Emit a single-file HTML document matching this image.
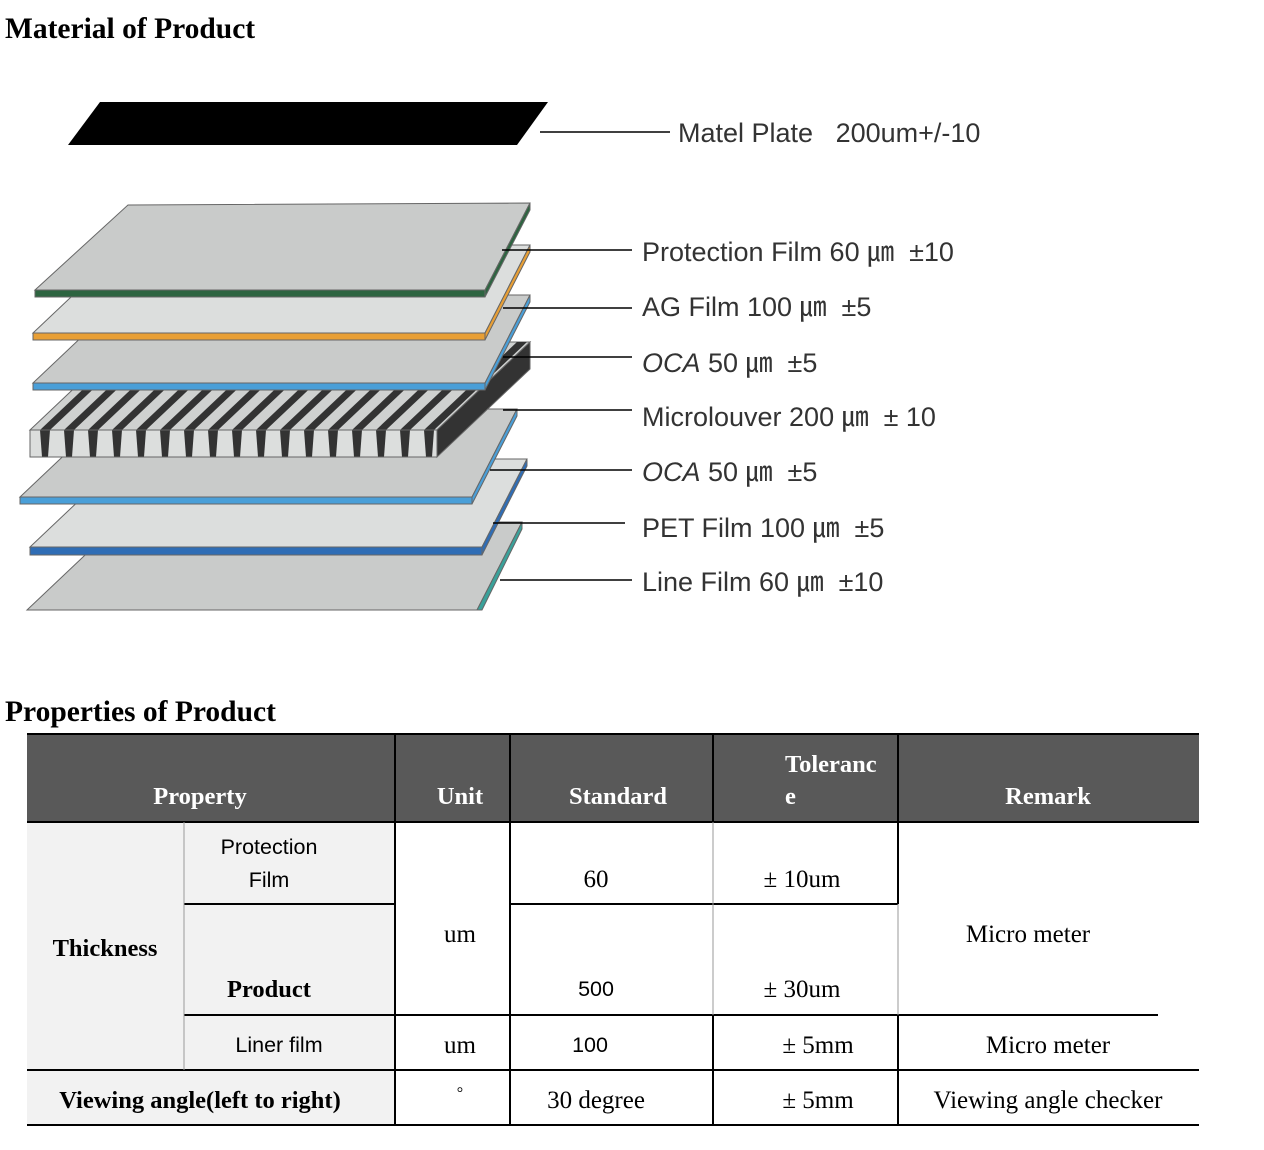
<!DOCTYPE html>
<html><head><meta charset="utf-8"><style>
body{margin:0;background:#fff;width:1264px;height:1150px;position:relative;overflow:hidden}
svg{position:absolute;left:0;top:0}
</style></head><body>
<svg width="1264" height="1150" xmlns="http://www.w3.org/2000/svg">
<g font-family="Liberation Serif, serif" font-weight="bold" font-size="29.5" fill="#000">
<text x="5" y="38">Material of Product</text>
<text x="5" y="721">Properties of Product</text>
</g>
<polygon points="100,102 548,102 517,145 68,145" fill="#000"/>
<g stroke="#666" stroke-width="1">
<polygon points="27,610 477,610 522,522 120,522" fill="#c9cbca"/>
<polygon points="477,610 522,522 522,529 482,610" fill="#3aa19a"/>
<polygon points="30,547 482,547 527,459 123,459" fill="#dcdedd"/>
<rect x="30" y="547" width="452" height="8" fill="#2f6db5"/>
<polygon points="482,547 527,459 527,466 482,555" fill="#2f6db5"/>
<polygon points="20,497 472,497 517,409 113,409" fill="#c9cbca"/>
<rect x="20" y="497" width="452" height="7" fill="#4a9fd8"/>
<polygon points="472,497 517,409 517,416 472,504" fill="#4a9fd8"/>
<polygon points="30,430 437,430 530,342 123,342" fill="#cfd1d0"/>
<polygon points="437,430 530,342 530,369 437,457" fill="#333"/>
<rect x="30" y="430" width="407" height="27" fill="#dcdedd"/>
</g>
<g fill="#333">
<polygon points="40,430 50,430 143,342 133,342"/><polygon points="40,430 50,430 48,457 42,457"/>
<polygon points="64,430 74,430 167,342 157,342"/><polygon points="64,430 74,430 72,457 66,457"/>
<polygon points="88,430 98,430 191,342 181,342"/><polygon points="88,430 98,430 96,457 90,457"/>
<polygon points="112,430 122,430 215,342 205,342"/><polygon points="112,430 122,430 120,457 114,457"/>
<polygon points="136,430 146,430 239,342 229,342"/><polygon points="136,430 146,430 144,457 138,457"/>
<polygon points="160,430 170,430 263,342 253,342"/><polygon points="160,430 170,430 168,457 162,457"/>
<polygon points="184,430 194,430 287,342 277,342"/><polygon points="184,430 194,430 192,457 186,457"/>
<polygon points="208,430 218,430 311,342 301,342"/><polygon points="208,430 218,430 216,457 210,457"/>
<polygon points="232,430 242,430 335,342 325,342"/><polygon points="232,430 242,430 240,457 234,457"/>
<polygon points="256,430 266,430 359,342 349,342"/><polygon points="256,430 266,430 264,457 258,457"/>
<polygon points="280,430 290,430 383,342 373,342"/><polygon points="280,430 290,430 288,457 282,457"/>
<polygon points="304,430 314,430 407,342 397,342"/><polygon points="304,430 314,430 312,457 306,457"/>
<polygon points="328,430 338,430 431,342 421,342"/><polygon points="328,430 338,430 336,457 330,457"/>
<polygon points="352,430 362,430 455,342 445,342"/><polygon points="352,430 362,430 360,457 354,457"/>
<polygon points="376,430 386,430 479,342 469,342"/><polygon points="376,430 386,430 384,457 378,457"/>
<polygon points="400,430 410,430 503,342 493,342"/><polygon points="400,430 410,430 408,457 402,457"/>
<polygon points="424,430 434,430 527,342 517,342"/><polygon points="424,430 434,430 432,457 426,457"/>
</g>
<rect x="30" y="430" width="407" height="27" fill="none" stroke="#666"/>
<g stroke="#666" stroke-width="1">
<polygon points="33,383 485,383 530,295 126,295" fill="#c9cbca"/>
<rect x="33" y="383" width="452" height="7" fill="#4a9fd8"/>
<polygon points="485,383 530,295 530,302 485,390" fill="#4a9fd8"/>
<polygon points="33,333 485,333 530,245 126,245" fill="#dcdedd"/>
<rect x="33" y="333" width="452" height="7" fill="#e89f35"/>
<polygon points="485,333 530,245 530,252 485,340" fill="#e89f35"/>
<polygon points="35,290 485,290 530,203 128,205" fill="#c9cbca"/>
<rect x="35" y="290" width="450" height="7" fill="#2d6440"/>
<polygon points="485,290 530,203 530,210 485,297" fill="#2d6440"/>
</g>
<g stroke="#000" stroke-width="1.5">
<line x1="540" y1="132" x2="670" y2="132"/>
<line x1="502" y1="250" x2="632" y2="250"/>
<line x1="503" y1="308" x2="632" y2="308"/>
<line x1="503" y1="357" x2="632" y2="357"/>
<line x1="503" y1="410" x2="632" y2="410"/>
<line x1="490" y1="470" x2="632" y2="470"/>
<line x1="493" y1="523" x2="625" y2="523"/>
<line x1="500" y1="580" x2="632" y2="580"/>
</g>
<g font-family="Liberation Sans, sans-serif" font-size="27" fill="#333">
<text x="678" y="142">Matel Plate&#160;&#160; 200um+/-10</text>
<text x="642" y="261">Protection Film 60 ㎛&#160; ±10</text>
<text x="642" y="316">AG Film 100 ㎛&#160; ±5</text>
<text x="642" y="372"><tspan font-style="italic">OCA</tspan> 50 ㎛&#160; ±5</text>
<text x="642" y="426">Microlouver 200 ㎛&#160; ± 10</text>
<text x="642" y="481"><tspan font-style="italic">OCA</tspan> 50 ㎛&#160; ±5</text>
<text x="642" y="537">PET Film 100 ㎛&#160; ±5</text>
<text x="642" y="591">Line Film 60 ㎛&#160; ±10</text>
</g>
<rect x="27" y="734" width="1172" height="88" fill="#595959"/>
<rect x="27" y="822" width="368" height="303" fill="#f2f2f2"/>
<g stroke="#000" stroke-width="2">
<line x1="27" y1="734" x2="1199" y2="734"/>
<line x1="27" y1="822" x2="1199" y2="822"/>
<line x1="27" y1="1070" x2="1199" y2="1070"/>
<line x1="27" y1="1125" x2="1199" y2="1125"/>
<line x1="184" y1="904" x2="395" y2="904"/>
<line x1="510" y1="904" x2="898" y2="904"/>
<line x1="184" y1="1015" x2="1158" y2="1015"/>
<line x1="395" y1="734" x2="395" y2="1125"/>
<line x1="510" y1="734" x2="510" y2="1125"/>
<line x1="713" y1="734" x2="713" y2="822"/>
<line x1="713" y1="1015" x2="713" y2="1125"/>
<line x1="898" y1="734" x2="898" y2="904"/>
<line x1="898" y1="1015" x2="898" y2="1125"/>
</g>
<g stroke="#999" stroke-width="1">
<line x1="184" y1="822" x2="184" y2="1070"/>
<line x1="713" y1="822" x2="713" y2="1015"/>
<line x1="898" y1="904" x2="898" y2="1015"/>
</g>
<g font-family="Liberation Serif, serif" font-weight="bold" font-size="24.5" fill="#fff" text-anchor="middle">
<text x="200" y="804">Property</text>
<text x="460" y="804">Unit</text>
<text x="618" y="804">Standard</text>
<text x="785" y="772" text-anchor="start">Toleranc</text>
<text x="785" y="804" text-anchor="start">e</text>
<text x="1048" y="804">Remark</text>
</g>
<g font-family="Liberation Serif, serif" font-weight="bold" font-size="24.5" fill="#000" text-anchor="middle">
<text x="105" y="956">Thickness</text>
<text x="269" y="997">Product</text>
<text x="200" y="1108">Viewing angle(left to right)</text>
</g>
<g font-family="Liberation Sans, sans-serif" font-size="21.5" fill="#000" text-anchor="middle">
<text x="269" y="854">Protection</text>
<text x="269" y="887">Film</text>
<text x="279" y="1052">Liner film</text>
<text x="596" y="996">500</text>
<text x="590" y="1052">100</text>
</g>
<g font-family="Liberation Serif, serif" font-size="25" fill="#000" text-anchor="middle">
<text x="460" y="942">um</text>
<text x="596" y="887">60</text>
<text x="802" y="887">± 10um</text>
<text x="802" y="997">± 30um</text>
<text x="1028" y="942">Micro meter</text>
<text x="460" y="1053">um</text>
<text x="818" y="1053">± 5mm</text>
<text x="1048" y="1053">Micro meter</text>
<text x="460" y="1098" font-size="16">°</text>
<text x="596" y="1108">30 degree</text>
<text x="818" y="1108">± 5mm</text>
<text x="1048" y="1108">Viewing angle checker</text>
</g>
</svg>
</body></html>
